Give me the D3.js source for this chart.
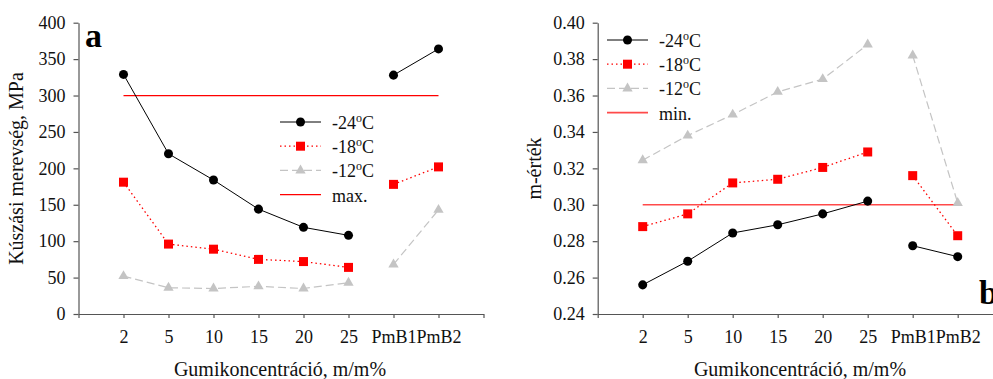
<!DOCTYPE html>
<html>
<head>
<meta charset="utf-8">
<script src="https://cdn.jsdelivr.net/npm/d3@7"></script>
<style>
  html, body { margin: 0; padding: 0; background: #fff; }
  svg { display: block; font-family: "Liberation Serif", "Times New Roman", serif; }
</style>
</head>
<body>
<svg id="chart" width="993" height="379"></svg>
<script>
// ---- Data ----
const categories = ["2", "5", "10", "15", "20", "25", "PmB1", "PmB2"];
const stiff24 = [329, 220, 184, 144, 119, 108, 328, 364];
const stiff18 = [181, 96, 89, 75, 72, 64, 178, 202];
const stiff12 = [52, 36, 35, 38, 35, 43, 68, 143];
const stiffMax = 300;
const stiffTicks = [0, 50, 100, 150, 200, 250, 300, 350, 400];

const m24 = [0.256, 0.269, 0.2845, 0.289, 0.295, 0.302, 0.2775, 0.2715];
const m18 = [0.288, 0.295, 0.312, 0.314, 0.3205, 0.329, 0.316, 0.283];
const m12 = [0.3245, 0.338, 0.3495, 0.362, 0.369, 0.388, 0.382, 0.301];
const mMin = 0.30;
const mTicks = [0.24, 0.26, 0.28, 0.30, 0.32, 0.34, 0.36, 0.38, 0.40];

const seriesLabels = ["-24", "-18", "-12"];
const segments = [[0, 6], [6, 8]]; // line breaks between 25 and PmB1

// ---- Styles ----
const axisColor = "#555";
const textColor = "#111";
const styles = [
  { stroke: "#000", dash: null, width: 1, fill: "#000", symbol: d3.symbolCircle, size: 64 },
  { stroke: "#ff0000", dash: "1.5,3", width: 1.3, fill: "#ff0000", symbol: d3.symbolSquare, size: 81 },
  { stroke: "#c4c4c4", dash: "8,4", width: 1.2, fill: "#c4c4c4", symbol: d3.symbolTriangle, size: 46 }
];

const svg = d3.select("#chart");

function panel(opts) {
  const g = svg.append("g");
  const x = d3.scalePoint().domain(categories).range(opts.xRange).padding(1);
  const y = d3.scaleLinear().domain(opts.yDomain).range([314, 22.7]);

  // y axis
  const ya = g.append("g")
    .attr("transform", `translate(${opts.xRange[0]},0)`)
    .call(d3.axisLeft(y).tickValues(opts.ticks).tickFormat(opts.fmt).tickSize(5).tickSizeOuter(0).tickPadding(8));
  // x axis
  const xa = g.append("g")
    .attr("transform", "translate(0,314)")
    .call(d3.axisBottom(x).tickSize(4).tickSizeOuter(4).tickPadding(12.7));
  [ya, xa].forEach(a => {
    a.selectAll("path, line").attr("stroke", axisColor).attr("stroke-width", 1.2);
    a.selectAll("text").attr("fill", textColor).style("font-size", "18px")
      .style("font-family", "'Liberation Serif', serif");
  });

  // reference line
  g.append("line")
    .attr("x1", x(categories[0])).attr("x2", x(categories[categories.length - 1]))
    .attr("y1", y(opts.ref)).attr("y2", y(opts.ref))
    .attr("stroke", opts.refColor).attr("stroke-width", opts.refWidth);

  const line = d3.line().x(d => x(d.c)).y(d => y(d.v));
  // series: draw back to front (-12, -18, -24)
  [2, 1, 0].forEach(si => {
    const vals = opts.series[si];
    const st = styles[si];
    const pts = vals.map((v, i) => ({ c: categories[i], v }));
    segments.forEach(([a, b]) => {
      g.append("path")
        .attr("d", line(pts.slice(a, b)))
        .attr("fill", "none")
        .attr("stroke", st.stroke)
        .attr("stroke-width", st.width)
        .attr("stroke-dasharray", st.dash);
    });
    g.selectAll(null).data(pts).enter().append("path")
      .attr("d", d3.symbol().type(st.symbol).size(st.size))
      .attr("transform", d => `translate(${x(d.c)},${y(d.v)})`)
      .attr("fill", st.fill);
  });

  // legend
  const lg = g.append("g");
  const rows = [0, 1, 2, 3];
  rows.forEach(r => {
    const yy = opts.legY + r * 24.2;
    if (r < 3) {
      const st = styles[r];
      lg.append("line")
        .attr("x1", opts.legX).attr("x2", opts.legX + 41)
        .attr("y1", yy).attr("y2", yy)
        .attr("stroke", st.stroke).attr("stroke-width", st.width)
        .attr("stroke-dasharray", st.dash);
      lg.append("path")
        .attr("d", d3.symbol().type(st.symbol).size(st.size))
        .attr("transform", `translate(${opts.legX + 20.5},${yy})`)
        .attr("fill", st.fill);
      const t = lg.append("text")
        .attr("x", opts.legX + 52).attr("y", yy + 7)
        .attr("fill", textColor).style("font-size", "18px");
      t.append("tspan").text(seriesLabels[r]);
      t.append("tspan").attr("dy", -7).style("font-size", "12px").text("o");
      t.append("tspan").attr("dy", 7).text("C");
    } else {
      lg.append("line")
        .attr("x1", opts.legX).attr("x2", opts.legX + 41)
        .attr("y1", yy).attr("y2", yy)
        .attr("stroke", opts.refColor).attr("stroke-width", opts.refWidth);
      lg.append("text")
        .attr("x", opts.legX + 52).attr("y", yy + 7)
        .attr("fill", textColor).style("font-size", "18px")
        .text(opts.refLabel);
    }
  });

  // axis titles
  g.append("text")
    .attr("x", opts.xTitleX).attr("y", 376)
    .attr("text-anchor", "middle").attr("fill", textColor)
    .style("font-size", "20px").text("Gumikoncentráció, m/m%");
  g.append("text")
    .attr("transform", `translate(${opts.yTitleX},168.5) rotate(-90)`)
    .attr("text-anchor", "middle").attr("fill", textColor)
    .style("font-size", "20px").text(opts.yTitle);

  // panel letter
  g.append("text")
    .attr("x", opts.letterX).attr("y", opts.letterY)
    .attr("fill", "#000").style("font-size", "34px").style("font-weight", "bold")
    .text(opts.letter);
}

panel({
  xRange: [78.5, 483.5], yDomain: [0, 400], ticks: stiffTicks, fmt: d3.format("d"),
  series: [stiff24, stiff18, stiff12], ref: stiffMax, refColor: "#ff0000", refWidth: 1.2,
  refLabel: "max.", legX: 280, legY: 122,
  xTitleX: 280, yTitleX: 23, yTitle: "Kúszási merevség, MPa",
  letter: "a", letterX: 85, letterY: 46.5
});

panel({
  xRange: [597.7, 1002.7], yDomain: [0.24, 0.40], ticks: mTicks, fmt: d3.format(".2f"),
  series: [m24, m18, m12], ref: mMin, refColor: "#ff4a4a", refWidth: 1.6,
  refLabel: "min.", legX: 607, legY: 40,
  xTitleX: 800, yTitleX: 541, yTitle: "m-érték",
  letter: "b", letterX: 979, letterY: 304
});
</script>
</body>
</html>
